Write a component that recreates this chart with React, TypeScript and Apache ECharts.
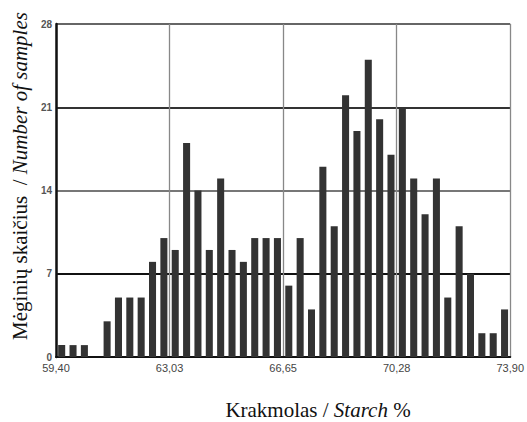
import React, { useEffect, useRef } from "react";
import * as echarts from "echarts";

const binCount = 40;
const counts = [
  1, 1, 1, 0, 3, 5, 5, 5, 8, 10,
  9, 18, 14, 9, 15, 9, 8, 10, 10, 10,
  6, 10, 4, 16, 11, 22, 19, 25, 20, 17,
  21, 15, 12, 15, 5, 11, 7, 2, 2, 4,
];
const tickLabels = ["59,40", "63,03", "66,65", "70,28", "73,90"];
const yTicks = [0, 7, 14, 21, 28];
const xTitleA = "Krakmolas / ";
const xTitleB = "Starch";
const xTitleC = " %";
const yTitleA = "Mėginių skaičius  / ";
const yTitleB = "Number of samples";

export default function App() {
  const ref = useRef<HTMLDivElement>(null);
  useEffect(() => {
    if (!ref.current) return;
    const chart = echarts.init(ref.current, undefined, { renderer: "svg" });
    const cats = counts.map((_, i) => String(i));
    chart.setOption({
      animation: false,
      grid: { left: 56, right: 13, top: 24, bottom: 65, containLabel: false },
      xAxis: [
        {
          type: "category",
          data: cats,
          boundaryGap: true,
          axisLine: { show: false },
          axisTick: { show: false },
          axisLabel: { show: false },
          splitLine: { show: false },
        },
        {
          type: "value",
          min: 0,
          max: binCount,
          interval: 10,
          position: "bottom",
          axisLine: { show: true, lineStyle: { color: "#111", width: 2 } },
          axisTick: { show: false },
          axisLabel: {
            color: "#444",
            fontFamily: "Liberation Sans, Arial, sans-serif",
            fontSize: 11,
            margin: 5,
            formatter: (v: number) => tickLabels[Math.round(v / 10)] ?? "",
          },
          splitLine: { show: true, lineStyle: { color: "#888", width: 1.3 } },
        },
      ],
      yAxis: {
        type: "value",
        min: yTicks[0],
        max: yTicks[yTicks.length - 1],
        interval: 7,
        axisLine: { show: true, lineStyle: { color: "#111", width: 2.5 } },
        axisTick: { show: false },
        axisLabel: {
          color: "#555",
          fontFamily: "Liberation Sans, Arial, sans-serif",
          fontSize: 10,
          fontWeight: "bold",
          margin: 4,
        },
        splitLine: {
          show: true,
          lineStyle: { color: ["#111", "#111", "#777", "#333", "#666"], width: 1.8 },
        },
      },
      series: [
        {
          type: "bar",
          xAxisIndex: 0,
          data: counts,
          barCategoryGap: "38%",
          itemStyle: { color: "#333333" },
          z: 3,
        },
      ],
      graphic: [
        {
          type: "text",
          x: 20,
          y: 176,
          rotation: Math.PI / 2,
          style: {
            text: "{a|" + yTitleA + "}{b|" + yTitleB + "}",
            align: "center",
            verticalAlign: "middle",
            rich: {
              a: { fontFamily: "Liberation Serif, Times New Roman, serif", fontSize: 21, fill: "#111" },
              b: { fontFamily: "Liberation Serif, Times New Roman, serif", fontSize: 21, fontStyle: "italic", fill: "#111" },
            },
          },
        },
        {
          type: "text",
          x: 318,
          y: 410,
          style: {
            text: "{a|" + xTitleA + "}{b|" + xTitleB + "}{a|" + xTitleC + "}",
            align: "center",
            verticalAlign: "middle",
            rich: {
              a: { fontFamily: "Liberation Serif, Times New Roman, serif", fontSize: 21, fill: "#111" },
              b: { fontFamily: "Liberation Serif, Times New Roman, serif", fontSize: 21, fontStyle: "italic", fill: "#111" },
            },
          },
        },
      ],
    });
    return () => chart.dispose();
  }, []);
  return <div ref={ref} style={{ width: 527, height: 422, position: "absolute", left: 0, top: 0 }} />;
}
